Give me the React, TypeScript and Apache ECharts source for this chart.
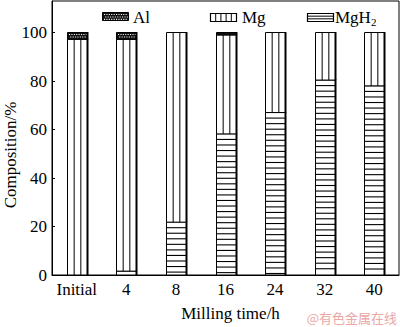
import React, { useEffect, useRef } from "react";
import * as echarts from "echarts";

const categories = ["Initial", "4", "8", "16", "24", "32", "40"];
const mgh2Values = [0, 1.6, 21.8, 58.2, 67, 80.4, 78];
const mgValues = [97.2, 95.6, 78.2, 40.8, 33, 19.6, 22];
const alValues = [2.8, 2.8, 0, 1, 0, 0, 0];
const seriesNames = ["Al", "Mg", "MgH2"];
const yMax = 113;

const FONT = "'Liberation Serif', 'Times New Roman', Times, serif";
const BAR_W = 20;

function alDots(x0: number, y0: number, w: number, h: number) {
  const out: any[] = [];
  for (let yy = y0 + 1.5, r = 0; yy < y0 + h - 1; yy += 2.4, r++) {
    for (let xx = x0 + 1.5 + (r % 2) * 1.2; xx < x0 + w - 1; xx += 2.4) {
      out.push({
        type: "rect",
        shape: { x: xx, y: yy, width: 1.1, height: 1.1 },
        style: { fill: "#fff" },
      });
    }
  }
  return out;
}

function makeRender(kind: string) {
  return (params: any, api: any) => {
    const i = api.value(0);
    const lo = api.value(1);
    const hi = api.value(2);
    if (!(hi - lo > 0)) return null;
    const pLo = api.coord([i, lo]);
    const pHi = api.coord([i, hi]);
    const x0 = Math.round(pLo[0] - BAR_W / 2) + 0.5;
    const y0 = pHi[1];
    const h = pLo[1] - pHi[1];
    const children: any[] = [];
    children.push({
      type: "rect",
      shape: { x: x0, y: y0, width: BAR_W, height: h },
      style: { fill: kind === "Al" ? "#111" : "#fff", stroke: "#000", lineWidth: 1 },
    });
    if (kind === "Mg") {
      for (let k = 1; k < 3; k++) {
        const xx = x0 + (BAR_W * k) / 3;
        children.push({
          type: "line",
          shape: { x1: xx, y1: y0, x2: xx, y2: y0 + h },
          style: { stroke: "#000", lineWidth: 1 },
        });
      }
    } else if (kind === "MgH2") {
      for (let yy = y0 + 5.55; yy < y0 + h - 1; yy += 5.55) {
        children.push({
          type: "line",
          shape: { x1: x0, y1: yy, x2: x0 + BAR_W, y2: yy },
          style: { stroke: "#000", lineWidth: 1.1 },
        });
      }
    } else if (kind === "Al") {
      children.push(...alDots(x0, y0, BAR_W, h));
    }
    children.push({
      type: "line",
      shape: { x1: x0 + BAR_W, y1: y0 - 0.5, x2: x0 + BAR_W, y2: y0 + h },
      style: { stroke: "#000", lineWidth: 2 },
    });
    return { type: "group", children };
  };
}

function buildData(idx: number) {
  const stacks = [mgh2Values, mgValues, alValues];
  return categories.map((_, i) => {
    let base = 0;
    for (let s = 0; s < idx; s++) base += stacks[s][i];
    return [i, base, base + stacks[idx][i]];
  });
}

function legendGraphics() {
  const g: any[] = [];
  const bh = 8;
  const bw = 26;
  const font = `17px ${FONT}`;
  // Al
  const ax = 102.5, ay = 12.5;
  g.push({ type: "rect", shape: { x: ax, y: ay, width: bw, height: bh }, style: { fill: "#111", stroke: "#000", lineWidth: 1 } });
  alDots(ax, ay, bw, bh).forEach((d) => g.push(d));
  g.push({ type: "text", x: 133, y: 17, style: { text: seriesNames[0], font, fill: "#000", verticalAlign: "middle" } });
  // Mg
  const mx = 210.5, my = 13.5;
  g.push({ type: "rect", shape: { x: mx, y: my, width: bw, height: bh }, style: { fill: "#fff", stroke: "#000", lineWidth: 1.2 } });
  for (let k = 1; k < 5; k++) {
    g.push({ type: "line", shape: { x1: mx + (bw * k) / 5, y1: my, x2: mx + (bw * k) / 5, y2: my + bh }, style: { stroke: "#000", lineWidth: 1 } });
  }
  g.push({ type: "text", x: 242, y: 17, style: { text: seriesNames[1], font, fill: "#000", verticalAlign: "middle" } });
  // MgH2
  const hx = 307.5, hy = 13.5;
  g.push({ type: "rect", shape: { x: hx, y: hy, width: bw, height: bh }, style: { fill: "#fff", stroke: "#000", lineWidth: 1.2 } });
  for (let k = 1; k < 3; k++) {
    g.push({ type: "line", shape: { x1: hx, y1: hy + (bh * k) / 3, x2: hx + bw, y2: hy + (bh * k) / 3 }, style: { stroke: "#000", lineWidth: 1 } });
  }
  g.push({
    type: "text",
    x: 335,
    y: 17,
    style: {
      text: "MgH{sub|2}",
      font,
      fill: "#000",
      verticalAlign: "middle",
      rich: { sub: { fontSize: 11, fontFamily: FONT, verticalAlign: "bottom", padding: [9, 0, 0, 0] } },
    },
  });
  return g;
}

export default function App() {
  const ref = useRef<HTMLDivElement>(null);
  useEffect(() => {
    if (!ref.current) return;
    const chart = echarts.init(ref.current, null, { renderer: "svg" });
    const kinds = ["MgH2", "Mg", "Al"];
    chart.setOption({
      animation: false,
      backgroundColor: "#fff",
      textStyle: { fontFamily: FONT },
      grid: { left: 52, right: 1, top: 1, bottom: 44, show: true, borderColor: "#000", borderWidth: 1 },
      xAxis: {
        type: "category",
        data: categories,
        axisLine: { lineStyle: { color: "#000", width: 1 } },
        axisTick: { show: false },
        axisLabel: { color: "#000", fontFamily: FONT, fontSize: 17, margin: 6, interval: 0 },
        name: "Milling time/h",
        nameLocation: "middle",
        nameGap: 30,
        nameTextStyle: { color: "#000", fontFamily: FONT, fontSize: 17, padding: [0, 0, 0, 10] },
      },
      yAxis: {
        type: "value",
        min: 0,
        max: yMax,
        interval: 20,
        axisLine: { show: true, lineStyle: { color: "#000", width: 1 } },
        axisTick: { show: true, inside: true, length: 3, lineStyle: { color: "#000" } },
        splitLine: { show: false },
        axisLabel: {
          color: "#000",
          fontFamily: FONT,
          fontSize: 17,
          margin: 5,
          showMaxLabel: false,
          formatter: (v: number) => (v > 100 ? "" : String(v)),
        },
      },
      graphic: [
        {
          type: "text",
          x: 10,
          y: 155,
          rotation: Math.PI / 2,
          style: {
            text: "Composition/%",
            font: `17px ${FONT}`,
            fill: "#000",
            align: "center",
            verticalAlign: "middle",
          },
        },
        ...legendGraphics(),
        {
          type: "text",
          right: 3,
          bottom: 3,
          style: {
            text: "@有色金属在线",
            font: `13px "Noto Sans CJK SC"`,
            fill: "#eba6a6",
          },
        },
      ],
      series: kinds.map((k, idx) => ({
        type: "custom",
        name: k,
        renderItem: makeRender(k),
        encode: { x: 0, y: [1, 2] },
        data: buildData(idx),
        clip: false,
      })),
    });
    return () => chart.dispose();
  }, []);
  return <div ref={ref} style={{ width: 400, height: 327, position: "absolute", left: 0, top: 0 }} />;
}
